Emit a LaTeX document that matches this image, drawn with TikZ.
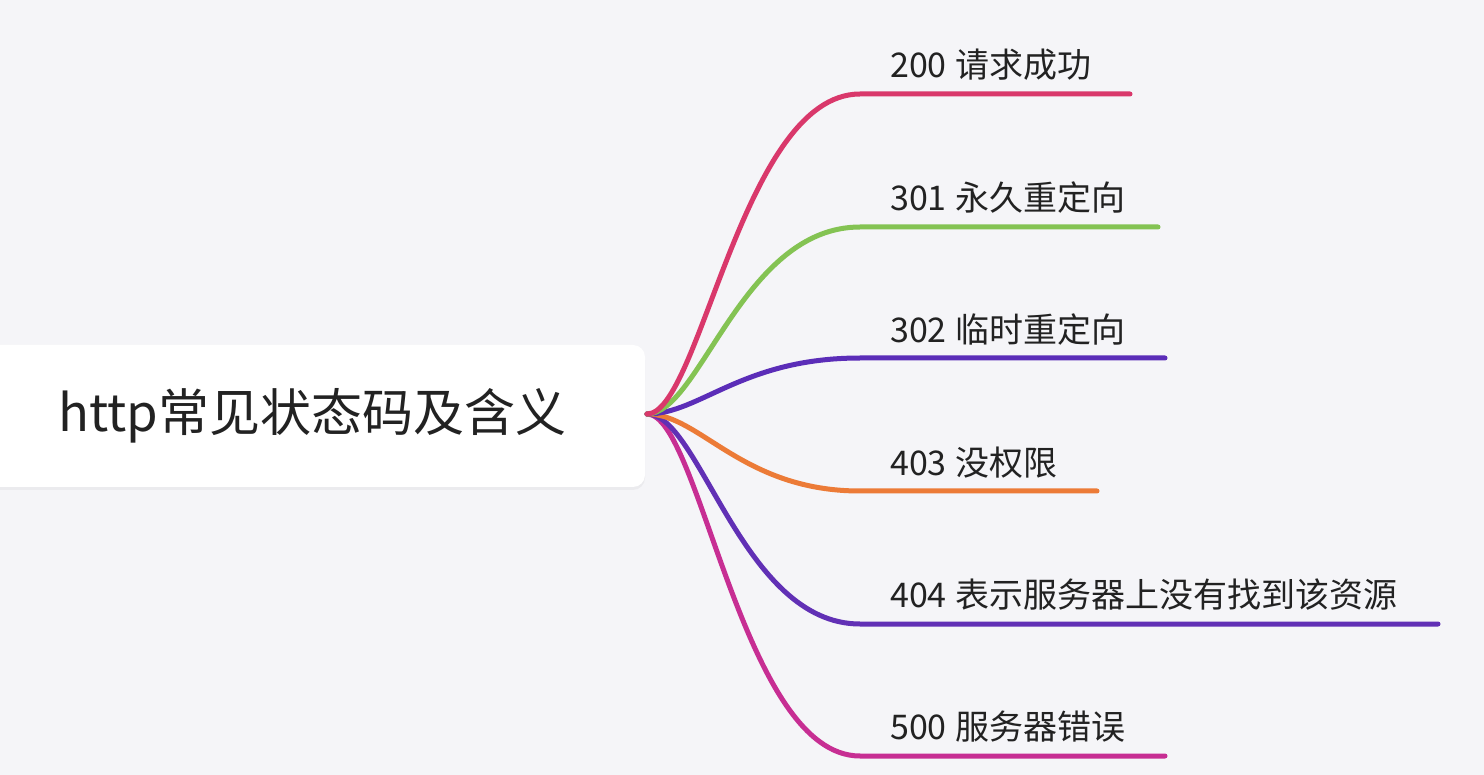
\documentclass[tikz,border=0pt]{standalone}
\usepackage{fontspec}
\setmainfont{Noto Sans CJK SC}
\usetikzlibrary{shadows}
\definecolor{bg}{HTML}{F5F5F8}
\definecolor{txt}{HTML}{222222}
\definecolor{cRed}{HTML}{D9386B}
\definecolor{cGreen}{HTML}{84C353}
\definecolor{cPurpleA}{HTML}{5B2DB8}
\definecolor{cOrange}{HTML}{EC7B37}
\definecolor{cPurpleB}{HTML}{6130B5}
\definecolor{cMagenta}{HTML}{C72E93}
\newcommand{\gap}{\hspace{0.25em}}
\tikzset{
  rootbox/.style={rectangle, rounded corners=12pt, fill=white, draw=none,
    minimum width=665pt, minimum height=142pt, inner sep=0pt,
    font=\fontsize{51}{56}\selectfont, text=txt,
    drop shadow={opacity=0.08, shadow xshift=0pt, shadow yshift=-3pt}},
  lbl/.style={anchor=west, inner sep=0pt, font=\fontsize{34}{38}\selectfont, text=txt},
  branch/.style={line width=5pt, line cap=round},
}
\begin{document}
\begin{tikzpicture}[x=1pt, y=-1pt]
\fill[bg] (0,0) rectangle (1484,775);
\useasboundingbox (0,0) rectangle (1484,775);
\node[rootbox] (root) at (312.5,416) {http常见状态码及含义};
\coordinate (o) at (647,414);
% curve ends and line ends
\coordinate (c200) at (860,94);   \coordinate (e200) at (1130,94);
\coordinate (c301) at (860,227);  \coordinate (e301) at (1158,227);
\coordinate (c302) at (860,358);  \coordinate (e302) at (1165,358);
\coordinate (c403) at (860,491);  \coordinate (e403) at (1097,491);
\coordinate (c404) at (860,624);  \coordinate (e404) at (1438,624);
\coordinate (c500) at (860,756);  \coordinate (e500) at (1165,756);
\draw[branch, cMagenta] (o) .. controls +(53,0) and +(-118,0) .. (c500) -- (e500);
\draw[branch, cPurpleB] (o) .. controls +(53,0) and +(-118,0) .. (c404) -- (e404);
\draw[branch, cOrange] (o) .. controls +(53,0) and +(-118,0) .. (c403) -- (e403);
\draw[branch, cPurpleA] (o) .. controls +(53,0) and +(-118,0) .. (c302) -- (e302);
\draw[branch, cGreen] (o) .. controls +(53,0) and +(-118,0) .. (c301) -- (e301);
\draw[branch, cRed] (o) .. controls +(53,0) and +(-118,0) .. (c200) -- (e200);
\node[lbl] (l200) at (890,65) {200\gap 请求成功};
\node[lbl] (l301) at (890,198) {301\gap 永久重定向};
\node[lbl] (l302) at (890,330) {302\gap 临时重定向};
\node[lbl] (l403) at (890,463) {403\gap 没权限};
\node[lbl] (l404) at (890,595) {404\gap 表示服务器上没有找到该资源};
\node[lbl] (l500) at (890,727) {500\gap 服务器错误};
\end{tikzpicture}
\end{document}
